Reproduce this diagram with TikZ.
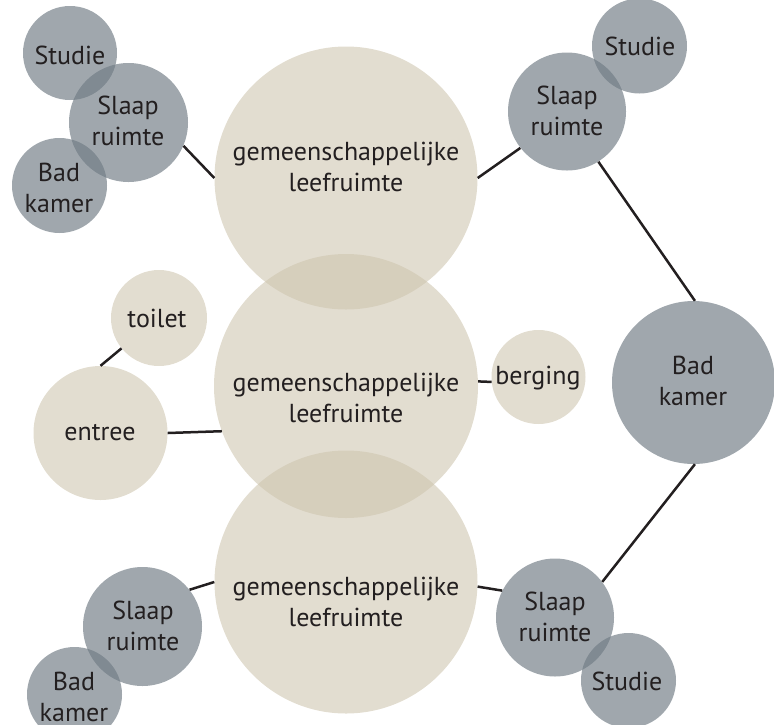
\documentclass[tikz,border=0pt]{standalone}
\usepackage{fontspec}
\setmainfont{PT Sans}
\definecolor{beigeC}{RGB}{206,197,175}
\definecolor{grayC}{RGB}{111,122,131}
\definecolor{ink}{RGB}{35,31,32}
\begin{document}
\begin{tikzpicture}[x=1pt,y=-1pt,
  bcirc/.style={circle,inner sep=0pt,fill=beigeC,fill opacity=0.59,minimum size=#1},
  gcirc/.style={circle,inner sep=0pt,fill=grayC,fill opacity=0.66,minimum size=#1},
  txt/.style={font=\fontsize{26}{31}\selectfont,align=center,text=ink,inner sep=0pt},
  conn/.style={draw=ink,line width=2.5pt}]
\useasboundingbox (0,0) rectangle (774,724);
% main circles
\node[bcirc=263pt] (m1) at (346,178) {};
\node[bcirc=264pt] (m2) at (346,386) {};
\node[bcirc=263pt] (m3) at (346,582) {};
% small beige
\node[bcirc=96pt] (toilet) at (159,318) {};
\node[bcirc=134pt] (entree) at (100.5,433) {};
\node[bcirc=94pt] (berging) at (538.5,377) {};
% gray circles
\node[gcirc=94pt] (tlS) at (70,53) {};
\node[gcirc=119pt] (tlR) at (128.5,122.5) {};
\node[gcirc=95pt] (tlB) at (59.5,185.5) {};
\node[gcirc=95pt] (trS) at (639.5,46) {};
\node[gcirc=118pt] (trR) at (567,111.5) {};
\node[gcirc=163pt] (bk) at (693.5,382.5) {};
\node[gcirc=118pt] (brR) at (555,617.5) {};
\node[gcirc=95pt] (brS) at (628.5,680.5) {};
\node[gcirc=119pt] (blR) at (142.5,626.5) {};
\node[gcirc=95pt] (blB) at (74.5,694.5) {};
% connectors
\draw[conn] (tlR.-23) -- (m1.180);
\draw[conn] (m1.0) -- (trR.-142);
\draw[conn] (trR.-58) -- (bk.89);
\draw[conn] (bk.-89) -- (brR.37);
\draw[conn] (brR.153) -- (m3.-2);
\draw[conn] (blR.38) -- (m3.180);
\draw[conn] (entree.0) -- (m2.200);
\draw[conn] (toilet.-141) -- (entree.90);
\draw[conn] (berging.186) -- (m2.2);
% labels
\node[txt] (t1) at (346,167) {gemeenschappelijke\\leefruimte};
\node[txt] (t2) at (346,398) {gemeenschappelijke\\leefruimte};
\node[txt] (t3) at (346,602) {gemeenschappelijke\\leefruimte};
\node[txt] (ttoilet) at (157,318) {toilet};
\node[txt] (tentree) at (100,433) {entree};
\node[txt] (tberging) at (538,378) {berging};
\node[txt] (ttlS) at (70,55) {Studie};
\node[txt] (ttlR) at (128,121) {Slaap\\ruimte};
\node[txt] (ttlB) at (59,188) {Bad\\kamer};
\node[txt] (ttrS) at (640,46) {Studie};
\node[txt] (ttrR) at (567,111) {Slaap\\ruimte};
\node[txt] (tbk) at (693,381) {Bad\\kamer};
\node[txt] (tbrR) at (555,617) {Slaap\\ruimte};
\node[txt] (tbrS) at (627,681) {Studie};
\node[txt] (tblR) at (143,626) {Slaap\\ruimte};
\node[txt] (tblB) at (74,697) {Bad\\kamer};
\end{tikzpicture}
\end{document}
